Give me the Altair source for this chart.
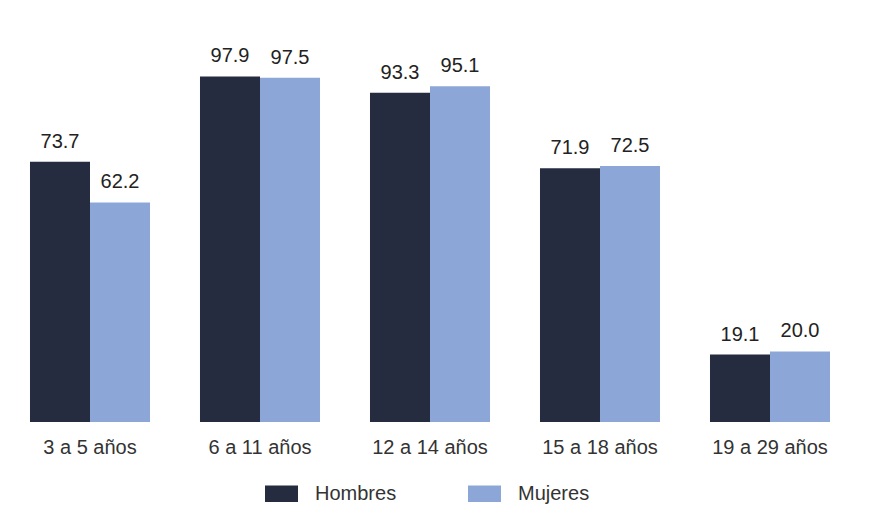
import altair as alt
import pandas as pd

categories = ["3 a 5 años", "6 a 11 años", "12 a 14 años", "15 a 18 años", "19 a 29 años"]
series = ["Hombres", "Mujeres"]
hombres = [73.7, 97.9, 93.3, 71.9, 19.1]
mujeres = [62.2, 97.5, 95.1, 72.5, 20.0]
colors = ["#252c40", "#8ca7d7"]

rows = []
for c, h, m in zip(categories, hombres, mujeres):
    rows.append({"grupo": c, "sexo": "Hombres", "valor": h})
    rows.append({"grupo": c, "sexo": "Mujeres", "valor": m})
df = pd.DataFrame(rows)

FONT = "Liberation Sans"
FS = 20

x = alt.X("grupo:N", sort=categories, title=None,
          scale=alt.Scale(paddingInner=0.294, paddingOuter=0.147),
          axis=alt.Axis(labelAngle=0, ticks=False, domain=False, labelPadding=15,
                        labelFontSize=FS, labelColor="#333333", labelFont=FONT))
xo = alt.XOffset("sexo:N", sort=series, scale=alt.Scale(paddingInner=0, paddingOuter=0))
y = alt.Y("valor:Q", scale=alt.Scale(domain=[0, 100], nice=False), axis=None)

bars = alt.Chart(df).mark_bar().encode(
    x=x, xOffset=xo, y=y,
    color=alt.Color("sexo:N", sort=series, title=None,
                    scale=alt.Scale(domain=series, range=colors),
                    legend=alt.Legend(orient="none", direction="horizontal",
                                      legendX=260, legendY=408,
                                      symbolType="M-1,-0.5H1V0.5H-1Z", symbolSize=1089,
                                      symbolStrokeWidth=0, labelFontSize=FS, labelFont=FONT,
                                      labelColor="#333333", labelOffset=17, columnPadding=71,
                                      padding=0)),
)

labels = alt.Chart(df).mark_text(dy=-14, baseline="alphabetic", fontSize=FS, font=FONT,
                                 color="#222222").encode(
    x=x, xOffset=xo, y=y,
    text=alt.Text("valor:Q", format=".1f"),
)

chart = (bars + labels).properties(
    width=850, height=353,
    autosize=alt.AutoSizeParams(type="none"),
    padding={"left": 5, "top": 69, "right": 22, "bottom": 94},
    background="white",
).configure_view(stroke=None).configure_axis(grid=False)

chart.save("out.html", embed_options={"renderer": "svg", "actions": False})
